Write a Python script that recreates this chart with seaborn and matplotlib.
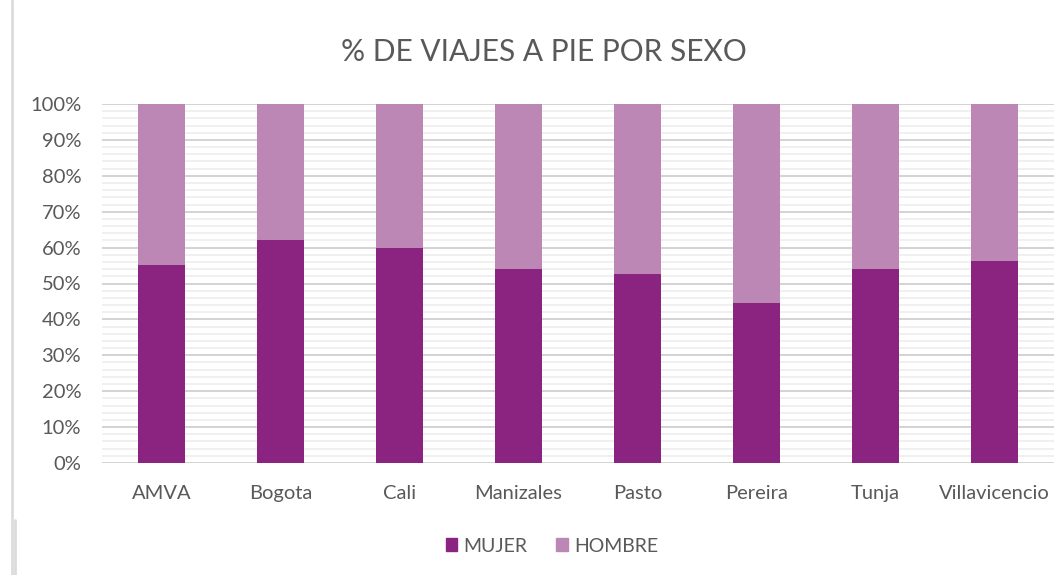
import pandas as pd
import matplotlib.pyplot as plt
import seaborn as sns
from matplotlib.ticker import MultipleLocator, PercentFormatter
from matplotlib.patches import Patch
from matplotlib.lines import Line2D

ciudades = ["AMVA", "Bogota", "Cali", "Manizales", "Pasto", "Pereira", "Tunja", "Villavicencio"]
mujer = [55.2, 62.1, 59.9, 54.0, 52.6, 44.6, 54.0, 56.3]
hombre = [100 - m for m in mujer]

df = pd.DataFrame({"ciudad": ciudades, "MUJER": mujer, "HOMBRE": hombre})
df["total"] = df["MUJER"] + df["HOMBRE"]

c_mujer = "#8B2480"
c_hombre = "#BC87B5"
gris = "#595959"

sns.set_style("white")
plt.rcParams["font.family"] = ["Lato", "DejaVu Sans"]

fig = plt.figure(figsize=(10.57, 5.75), dpi=100)
ax = fig.add_axes([102 / 1057, 1 - 463 / 575, 952 / 1057, 359 / 575])

# Stacked: total (hombre on top) then mujer
sns.barplot(data=df, x="ciudad", y="total", color=c_hombre, width=0.4, ax=ax, zorder=3,
            saturation=1, linewidth=0)
sns.barplot(data=df, x="ciudad", y="MUJER", color=c_mujer, width=0.4, ax=ax, zorder=4,
            saturation=1, linewidth=0)

ax.set_ylim(0, 100)
ax.set_xlim(-0.5, len(ciudades) - 0.5)
ax.yaxis.set_major_locator(MultipleLocator(10))
ax.yaxis.set_minor_locator(MultipleLocator(2))
ax.yaxis.set_major_formatter(PercentFormatter(decimals=0))
ax.grid(axis="y", which="major", color="#d0d0d0", linewidth=1.3, zorder=0)
ax.grid(axis="y", which="minor", color="#efefef", linewidth=1.3, zorder=0)
ax.set_axisbelow(True)
for s in ax.spines.values():
    s.set_visible(False)
ax.tick_params(axis="both", which="both", length=0, labelsize=14.5, labelcolor=gris)
ax.tick_params(axis="y", pad=15)
ax.tick_params(axis="x", pad=16)
ax.set_xlabel("")
ax.set_ylabel("")

fig.text(0.515, 1 - 52 / 575, "% DE VIAJES A PIE POR SEXO", ha="center", va="center",
         fontsize=21.5, color=gris)

handles = [Patch(color=c_mujer, label="MUJER"), Patch(color=c_hombre, label="HOMBRE")]
fig.legend(handles=handles, loc="center", bbox_to_anchor=(0.522, 1 - 546 / 575), ncol=2,
           frameon=False, fontsize=14, labelcolor=gris, handlelength=0.6, handleheight=0.6,
           columnspacing=1.5, handletextpad=0.3)

# left border artifact
fig.add_artist(Line2D([12 / 1057, 12 / 1057], [0, 1], color="#dcdcdc", linewidth=2))
fig.add_artist(Line2D([15 / 1057, 15 / 1057], [0, 1 - 520 / 575], color="#dcdcdc", linewidth=2))

fig.savefig("out.png", dpi=100)
